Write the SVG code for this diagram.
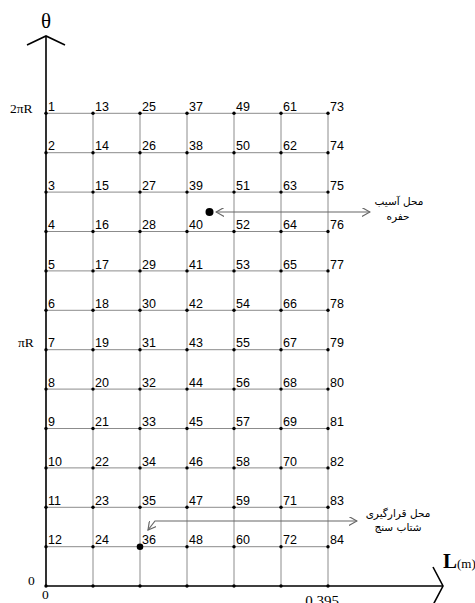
<svg xmlns="http://www.w3.org/2000/svg" width="475" height="603" viewBox="0 0 475 603">
<style>
.grid{stroke:#8c8c8c;stroke-width:1;fill:none}
.axis{stroke:#000;stroke-width:1.6;fill:none}
.num{font-family:"Liberation Sans",Arial,sans-serif;font-size:12.5px;fill:#000}
.ser{font-family:"Liberation Serif","Times New Roman",serif;fill:#000}
.fa{font-family:"DejaVu Sans","Noto Sans",sans-serif;font-size:10.5px;fill:#000;text-anchor:middle}
.dot{fill:#000}
.ptr{stroke:#666;stroke-width:1.2;fill:none}
</style>
<defs>
<marker id="ah" viewBox="0 0 10 10" refX="9" refY="5" markerWidth="9" markerHeight="9" markerUnits="userSpaceOnUse" orient="auto-start-reverse">
<path d="M0,0 L9,5 L0,10" fill="none" stroke="#666" stroke-width="1.3"/>
</marker>
</defs>
<g id="grid">
<path class="grid" d="M46,113.3H328M46,152.7H328M46,192.1H328M46,231.5H328M46,270.9H328M46,310.3H328M46,349.7H328M46,389.1H328M46,428.5H328M46,467.9H328M46,507.3H328M46,546.7H328"/>
<path class="grid" d="M93,113.3V586M140,113.3V586M187,113.3V586M234,113.3V586M281,113.3V586M328,113.3V586"/>
</g>
<g id="axes">
<path class="axis" d="M46,36V586H443"/>
<path class="axis" d="M27,45L46,36L65,45"/>
<path class="axis" d="M433,567L443,586L433,605"/>
</g>
<g id="dots">
<g id="d-col0"><circle class="dot" cx="46" cy="113.3" r="1.7"/><circle class="dot" cx="46" cy="152.7" r="1.7"/><circle class="dot" cx="46" cy="192.1" r="1.7"/><circle class="dot" cx="46" cy="231.5" r="1.7"/><circle class="dot" cx="46" cy="270.9" r="1.7"/><circle class="dot" cx="46" cy="310.3" r="1.7"/><circle class="dot" cx="46" cy="349.7" r="1.7"/><circle class="dot" cx="46" cy="389.1" r="1.7"/><circle class="dot" cx="46" cy="428.5" r="1.7"/><circle class="dot" cx="46" cy="467.9" r="1.7"/><circle class="dot" cx="46" cy="507.3" r="1.7"/><circle class="dot" cx="46" cy="546.7" r="1.7"/><circle class="dot" cx="46" cy="586" r="1.7"/></g>
<g id="d-col1"><circle class="dot" cx="93" cy="113.3" r="1.7"/><circle class="dot" cx="93" cy="152.7" r="1.7"/><circle class="dot" cx="93" cy="192.1" r="1.7"/><circle class="dot" cx="93" cy="231.5" r="1.7"/><circle class="dot" cx="93" cy="270.9" r="1.7"/><circle class="dot" cx="93" cy="310.3" r="1.7"/><circle class="dot" cx="93" cy="349.7" r="1.7"/><circle class="dot" cx="93" cy="389.1" r="1.7"/><circle class="dot" cx="93" cy="428.5" r="1.7"/><circle class="dot" cx="93" cy="467.9" r="1.7"/><circle class="dot" cx="93" cy="507.3" r="1.7"/><circle class="dot" cx="93" cy="546.7" r="1.7"/><circle class="dot" cx="93" cy="586" r="1.7"/></g>
<g id="d-col2"><circle class="dot" cx="140" cy="113.3" r="1.7"/><circle class="dot" cx="140" cy="152.7" r="1.7"/><circle class="dot" cx="140" cy="192.1" r="1.7"/><circle class="dot" cx="140" cy="231.5" r="1.7"/><circle class="dot" cx="140" cy="270.9" r="1.7"/><circle class="dot" cx="140" cy="310.3" r="1.7"/><circle class="dot" cx="140" cy="349.7" r="1.7"/><circle class="dot" cx="140" cy="389.1" r="1.7"/><circle class="dot" cx="140" cy="428.5" r="1.7"/><circle class="dot" cx="140" cy="467.9" r="1.7"/><circle class="dot" cx="140" cy="507.3" r="1.7"/><circle class="dot" cx="140" cy="586" r="1.7"/></g>
<g id="d-col3"><circle class="dot" cx="187" cy="113.3" r="1.7"/><circle class="dot" cx="187" cy="152.7" r="1.7"/><circle class="dot" cx="187" cy="192.1" r="1.7"/><circle class="dot" cx="187" cy="231.5" r="1.7"/><circle class="dot" cx="187" cy="270.9" r="1.7"/><circle class="dot" cx="187" cy="310.3" r="1.7"/><circle class="dot" cx="187" cy="349.7" r="1.7"/><circle class="dot" cx="187" cy="389.1" r="1.7"/><circle class="dot" cx="187" cy="428.5" r="1.7"/><circle class="dot" cx="187" cy="467.9" r="1.7"/><circle class="dot" cx="187" cy="507.3" r="1.7"/><circle class="dot" cx="187" cy="546.7" r="1.7"/><circle class="dot" cx="187" cy="586" r="1.7"/></g>
<g id="d-col4"><circle class="dot" cx="234" cy="113.3" r="1.7"/><circle class="dot" cx="234" cy="152.7" r="1.7"/><circle class="dot" cx="234" cy="192.1" r="1.7"/><circle class="dot" cx="234" cy="231.5" r="1.7"/><circle class="dot" cx="234" cy="270.9" r="1.7"/><circle class="dot" cx="234" cy="310.3" r="1.7"/><circle class="dot" cx="234" cy="349.7" r="1.7"/><circle class="dot" cx="234" cy="389.1" r="1.7"/><circle class="dot" cx="234" cy="428.5" r="1.7"/><circle class="dot" cx="234" cy="467.9" r="1.7"/><circle class="dot" cx="234" cy="507.3" r="1.7"/><circle class="dot" cx="234" cy="546.7" r="1.7"/><circle class="dot" cx="234" cy="586" r="1.7"/></g>
<g id="d-col5"><circle class="dot" cx="281" cy="113.3" r="1.7"/><circle class="dot" cx="281" cy="152.7" r="1.7"/><circle class="dot" cx="281" cy="192.1" r="1.7"/><circle class="dot" cx="281" cy="231.5" r="1.7"/><circle class="dot" cx="281" cy="270.9" r="1.7"/><circle class="dot" cx="281" cy="310.3" r="1.7"/><circle class="dot" cx="281" cy="349.7" r="1.7"/><circle class="dot" cx="281" cy="389.1" r="1.7"/><circle class="dot" cx="281" cy="428.5" r="1.7"/><circle class="dot" cx="281" cy="467.9" r="1.7"/><circle class="dot" cx="281" cy="507.3" r="1.7"/><circle class="dot" cx="281" cy="546.7" r="1.7"/><circle class="dot" cx="281" cy="586" r="1.7"/></g>
<g id="d-col6"><circle class="dot" cx="328" cy="113.3" r="1.7"/><circle class="dot" cx="328" cy="152.7" r="1.7"/><circle class="dot" cx="328" cy="192.1" r="1.7"/><circle class="dot" cx="328" cy="231.5" r="1.7"/><circle class="dot" cx="328" cy="270.9" r="1.7"/><circle class="dot" cx="328" cy="310.3" r="1.7"/><circle class="dot" cx="328" cy="349.7" r="1.7"/><circle class="dot" cx="328" cy="389.1" r="1.7"/><circle class="dot" cx="328" cy="428.5" r="1.7"/><circle class="dot" cx="328" cy="467.9" r="1.7"/><circle class="dot" cx="328" cy="507.3" r="1.7"/><circle class="dot" cx="328" cy="546.7" r="1.7"/><circle class="dot" cx="328" cy="586" r="1.7"/></g>
</g>
<g id="labels">
<text class="num" x="48" y="111">1</text><text class="num" x="48" y="150.4">2</text><text class="num" x="48" y="189.8">3</text><text class="num" x="48" y="229.2">4</text><text class="num" x="48" y="268.6">5</text><text class="num" x="48" y="308">6</text><text class="num" x="48" y="347.4">7</text><text class="num" x="48" y="386.8">8</text><text class="num" x="48" y="426.2">9</text><text class="num" x="48" y="465.6">10</text><text class="num" x="48" y="505">11</text><text class="num" x="48" y="544.4">12</text>
<text class="num" x="95" y="111">13</text><text class="num" x="95" y="150.4">14</text><text class="num" x="95" y="189.8">15</text><text class="num" x="95" y="229.2">16</text><text class="num" x="95" y="268.6">17</text><text class="num" x="95" y="308">18</text><text class="num" x="95" y="347.4">19</text><text class="num" x="95" y="386.8">20</text><text class="num" x="95" y="426.2">21</text><text class="num" x="95" y="465.6">22</text><text class="num" x="95" y="505">23</text><text class="num" x="95" y="544.4">24</text>
<text class="num" x="142" y="111">25</text><text class="num" x="142" y="150.4">26</text><text class="num" x="142" y="189.8">27</text><text class="num" x="142" y="229.2">28</text><text class="num" x="142" y="268.6">29</text><text class="num" x="142" y="308">30</text><text class="num" x="142" y="347.4">31</text><text class="num" x="142" y="386.8">32</text><text class="num" x="142" y="426.2">33</text><text class="num" x="142" y="465.6">34</text><text class="num" x="142" y="505">35</text><text class="num" x="142" y="544.4">36</text>
<text class="num" x="189" y="111">37</text><text class="num" x="189" y="150.4">38</text><text class="num" x="189" y="189.8">39</text><text class="num" x="189" y="229.2">40</text><text class="num" x="189" y="268.6">41</text><text class="num" x="189" y="308">42</text><text class="num" x="189" y="347.4">43</text><text class="num" x="189" y="386.8">44</text><text class="num" x="189" y="426.2">45</text><text class="num" x="189" y="465.6">46</text><text class="num" x="189" y="505">47</text><text class="num" x="189" y="544.4">48</text>
<text class="num" x="236" y="111">49</text><text class="num" x="236" y="150.4">50</text><text class="num" x="236" y="189.8">51</text><text class="num" x="236" y="229.2">52</text><text class="num" x="236" y="268.6">53</text><text class="num" x="236" y="308">54</text><text class="num" x="236" y="347.4">55</text><text class="num" x="236" y="386.8">56</text><text class="num" x="236" y="426.2">57</text><text class="num" x="236" y="465.6">58</text><text class="num" x="236" y="505">59</text><text class="num" x="236" y="544.4">60</text>
<text class="num" x="283" y="111">61</text><text class="num" x="283" y="150.4">62</text><text class="num" x="283" y="189.8">63</text><text class="num" x="283" y="229.2">64</text><text class="num" x="283" y="268.6">65</text><text class="num" x="283" y="308">66</text><text class="num" x="283" y="347.4">67</text><text class="num" x="283" y="386.8">68</text><text class="num" x="283" y="426.2">69</text><text class="num" x="283" y="465.6">70</text><text class="num" x="283" y="505">71</text><text class="num" x="283" y="544.4">72</text>
<text class="num" x="330" y="111">73</text><text class="num" x="330" y="150.4">74</text><text class="num" x="330" y="189.8">75</text><text class="num" x="330" y="229.2">76</text><text class="num" x="330" y="268.6">77</text><text class="num" x="330" y="308">78</text><text class="num" x="330" y="347.4">79</text><text class="num" x="330" y="386.8">80</text><text class="num" x="330" y="426.2">81</text><text class="num" x="330" y="465.6">82</text><text class="num" x="330" y="505">83</text><text class="num" x="330" y="544.4">84</text>
</g>
<g id="axis-labels">
<text class="ser" x="46" y="28" font-size="21" text-anchor="middle">θ</text>
<text class="ser" x="10" y="113" font-size="13.5">2πR</text>
<text class="ser" x="18" y="347" font-size="13.5">πR</text>
<text class="ser" x="28" y="585" font-size="13.5">0</text>
<text class="ser" x="42" y="599" font-size="13.5">0</text>
<text class="ser" x="322" y="606" font-size="15" text-anchor="middle">0.395</text>
<text class="ser" x="443" y="568"><tspan font-size="21" font-weight="bold">L</tspan><tspan font-size="13">(m)</tspan></text>
</g>
<g id="damage">
<circle cx="209.5" cy="212" r="4" fill="#000"/>
<text class="fa" x="399" y="205">محل آسیب</text>
<text class="fa" x="398" y="220">حفره</text>
</g>
<g id="sensor">
<circle cx="140" cy="546.7" r="3.3" fill="#000"/>
<text class="fa" x="398" y="517">محل قرارگیری</text>
<text class="fa" x="398" y="531">شتاب سنج</text>
</g>
<g id="connectors">
<path class="ptr" d="M216,212H370" marker-start="url(#ah)" marker-end="url(#ah)"/>
<path class="ptr" d="M148,530L155,521H357" marker-start="url(#ah)" marker-end="url(#ah)"/>
</g>
</svg>
